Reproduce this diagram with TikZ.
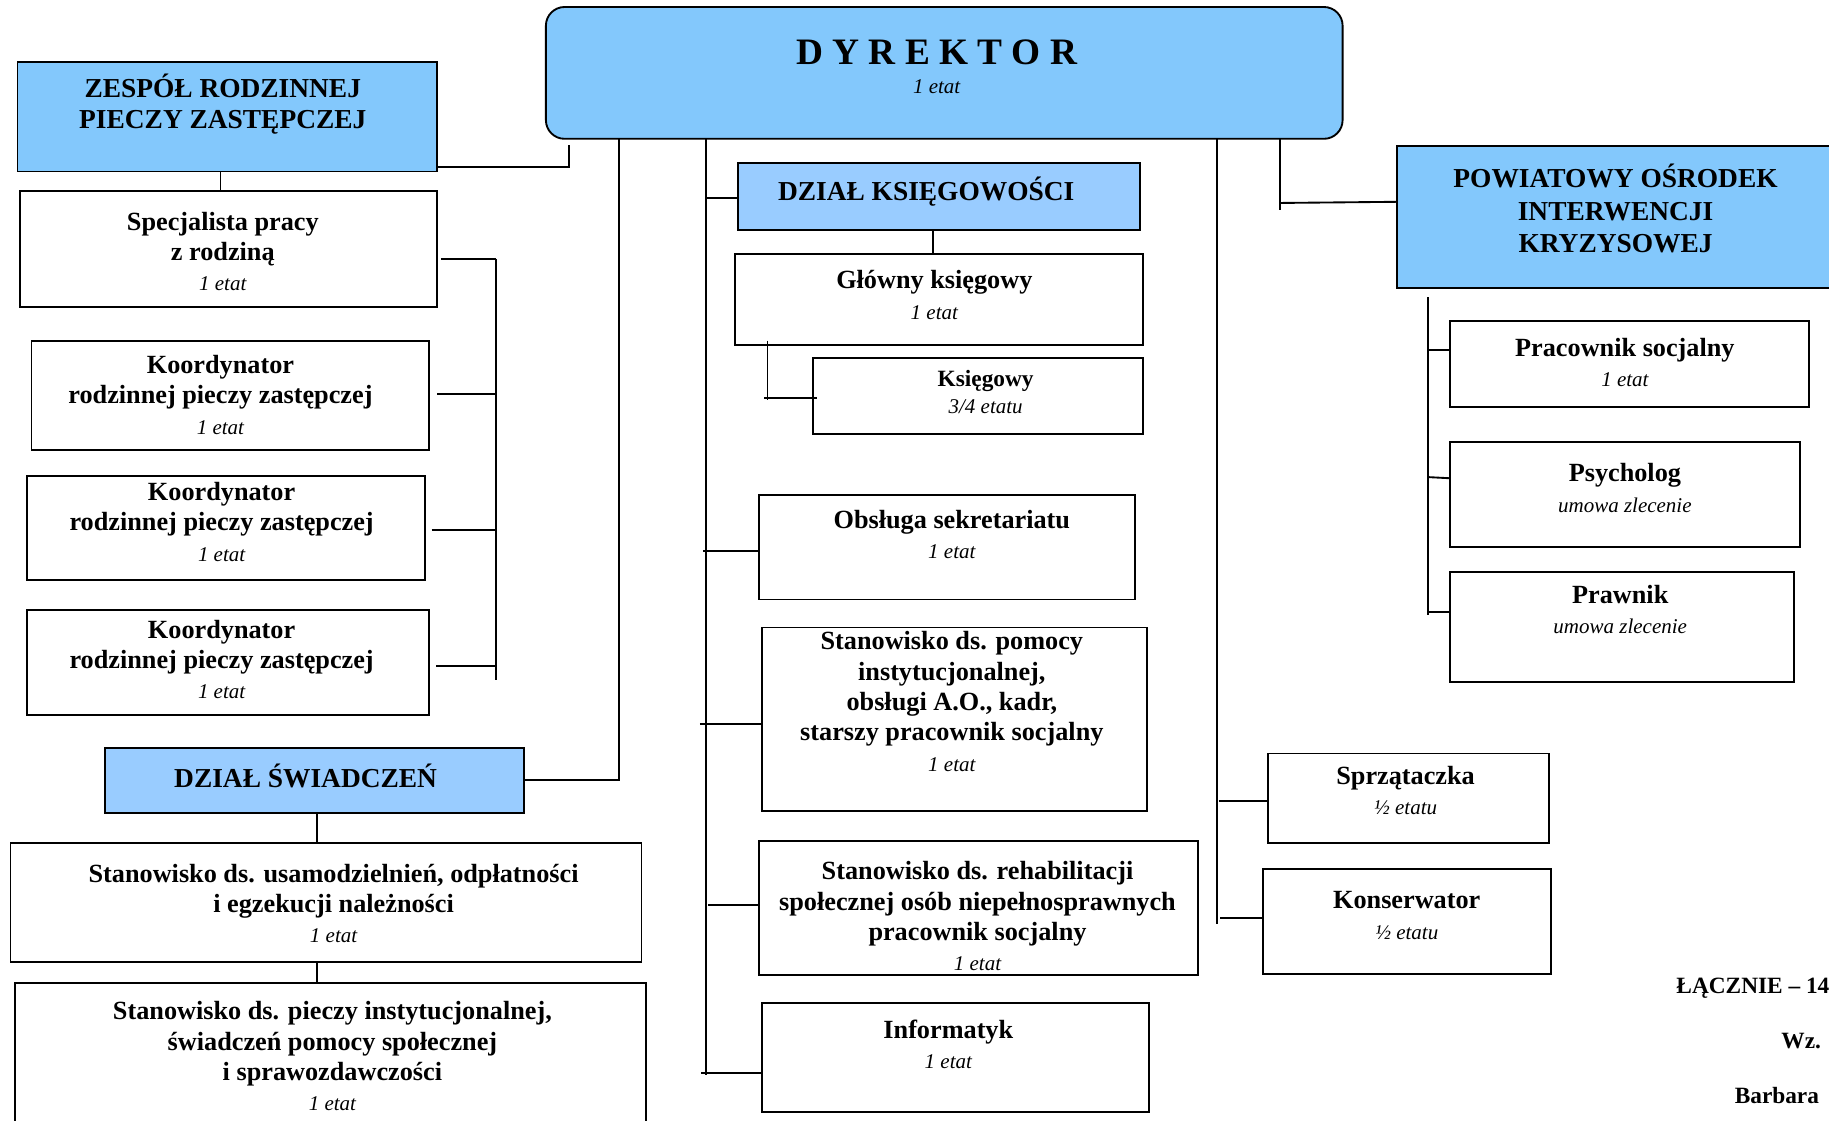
\documentclass[tikz,border=0pt]{standalone}
\usepackage{fontspec}
\setmainfont{Liberation Serif}
\definecolor{headblue}{HTML}{83C8FC}
\definecolor{deptblue}{HTML}{99CCFF}
\newcommand\mkbox[6]{%
  \pgfmathsetmacro\mbW{#5-#3}\pgfmathsetmacro\mbH{#6-#4}%
  \pgfmathsetmacro\mbX{(#3+#5)/2}\pgfmathsetmacro\mbY{(#4+#6)/2}%
  \node[#1, minimum width=\mbW pt, minimum height=\mbH pt] (#2) at (\mbX,\mbY) {};}
\newcommand\et[1]{{\fontsize{18}{26}\selectfont\mdseries\itshape #1}}
\tikzset{
  wbox/.style={draw, line width=1.6pt, fill=white, inner sep=0pt, outer sep=0pt},
  hbox/.style={wbox, fill=headblue},
  dbox/.style={wbox, fill=deptblue},
  txt/.style={anchor=north, yshift=18.2pt, align=center, inner sep=0pt,
    font=\fontsize{22.5}{26}\selectfont\bfseries},
  htxt/.style={txt, font=\fontsize{23.5}{27}\selectfont\bfseries},
  conn/.style={line width=1.6pt},
}
\begin{document}
\begin{tikzpicture}[x=1pt,y=-1pt]
\useasboundingbox (0,0) rectangle (1568,961);
\clip (0,0) rectangle (1568,961);
\fill[white] (0,0) rectangle (1568,961);

% ---------- boxes ----------
\node[hbox, rounded corners=16pt, minimum width=683pt, minimum height=113pt] (dyr) at (809.5,62.5) {};
\mkbox{hbox}{zesp}{15}{53}{375}{147}
\mkbox{wbox}{spec}{17}{164}{375}{263}
\mkbox{wbox}{koA}{27}{292}{368}{386}
\mkbox{wbox}{koB}{23}{408}{364}{497}
\mkbox{wbox}{koC}{23}{523}{368}{613}
\mkbox{dbox}{swiad}{90}{641}{449}{697}
\mkbox{wbox}{usam}{9}{723}{550}{825}
\mkbox{wbox}{piecz}{13}{843}{554}{990}
\mkbox{dbox}{ksieg}{633}{140}{977}{197}
\mkbox{wbox}{glow}{630}{218}{980}{296}
\mkbox{wbox}{ksiegowy}{697}{307}{980}{372}
\mkbox{wbox}{obsl}{651}{424}{973}{514}
\mkbox{wbox}{pomoc}{653}{538}{983}{695}
\mkbox{wbox}{rehab}{651}{721}{1027}{836}
\mkbox{wbox}{inf}{653}{860}{985}{953}
\mkbox{wbox}{sprz}{1087}{646}{1328}{723}
\mkbox{wbox}{kons}{1083}{745}{1330}{835}
\mkbox{hbox}{pow}{1198}{125}{1578}{247}
\mkbox{wbox}{prac}{1243}{275}{1551}{349}
\mkbox{wbox}{psych}{1243}{379}{1543}{469}
\mkbox{wbox}{praw}{1243}{490}{1538}{585}

% ---------- texts ----------
\node[anchor=base, inner sep=0pt, font=\fontsize{32}{36}\selectfont\bfseries] (dyr-t) at (803,55) {D Y R E K T O R};
\node[anchor=base, inner sep=0pt] (dyr-e) at (803,80) {\et{1 etat}};
\node[htxt] (zesp-t) at (191,81) {\strut ZESPÓŁ RODZINNEJ\\PIECZY ZASTĘPCZEJ};
\node[txt] (spec-t) at (191,197) {\strut Specjalista pracy\\z rodziną\\\et{1 etat}};
\node[txt] (koA-t) at (189,320) {\strut Koordynator\\rodzinnej pieczy zastępczej\\\et{1 etat}};
\node[txt] (koB-t) at (190,429) {\strut Koordynator\\rodzinnej pieczy zastępczej\\\et{1 etat}};
\node[txt] (koC-t) at (190,547) {\strut Koordynator\\rodzinnej pieczy zastępczej\\\et{1 etat}};
\node[htxt] (swiad-t) at (262,673) {\strut DZIAŁ ŚWIADCZEŃ};
\node[txt] (usam-t) at (286,756) {\strut Stanowisko ds. usamodzielnień, odpłatności\\i egzekucji należności\\\et{1 etat}};
\node[txt] (piecz-t) at (285,874) {\strut Stanowisko ds. pieczy instytucjonalnej,\\świadczeń pomocy społecznej\\i sprawozdawczości\\\et{1 etat}};
\node[htxt] (ksieg-t) at (794,170) {\strut DZIAŁ KSIĘGOWOŚCI};
\node[txt, font=\fontsize{22.5}{27}\selectfont\bfseries] (glow-t) at (801,246) {\strut Główny księgowy\\\et{1 etat}};
\node[txt, yshift=-2pt, font=\fontsize{20}{23}\selectfont\bfseries] (ksiegowy-t) at (845,331) {\strut Księgowy\\{\fontsize{18}{23}\selectfont\mdseries\itshape 3/4 etatu}};
\node[txt] (obsl-t) at (816,453) {\strut Obsługa sekretariatu\\\et{1 etat}};
\node[txt] (pomoc-t) at (816,557) {\strut Stanowisko ds. pomocy\\instytucjonalnej,\\obsługi A.O., kadr,\\starszy pracownik socjalny\\\et{1 etat}};
\node[txt] (rehab-t) at (838,754) {\strut Stanowisko ds. rehabilitacji\\społecznej osób niepełnosprawnych\\pracownik socjalny\\\et{1 etat}};
\node[txt] (inf-t) at (813,890) {\strut Informatyk\\\et{1 etat}};
\node[txt] (sprz-t) at (1205,672) {\strut Sprzątaczka\\\et{½ etatu}};
\node[txt] (kons-t) at (1206,779) {\strut Konserwator\\\et{½ etatu}};
\node[txt, font=\fontsize{23.5}{27.5}\selectfont\bfseries, yshift=1.05pt] (pow-t) at (1385,160) {\strut POWIATOWY OŚRODEK\\INTERWENCJI\\KRYZYSOWEJ};
\node[txt] (prac-t) at (1393,305) {\strut Pracownik socjalny\\\et{1 etat}};
\node[txt] (psych-t) at (1393,413) {\strut Psycholog\\\et{umowa zlecenie}};
\node[txt] (praw-t) at (1389,517) {\strut Prawnik\\\et{umowa zlecenie}};

\node[anchor=base west, inner sep=0pt, font=\fontsize{20}{23}\selectfont\bfseries] (lacz) at (1437,852) {ŁĄCZNIE – 14};
\node[anchor=base west, inner sep=0pt, font=\fontsize{20}{23}\selectfont\bfseries] (wz) at (1527,899) {Wz.};
\node[anchor=base west, inner sep=0pt, font=\fontsize{20}{23}\selectfont\bfseries] (barb) at (1487,946) {Barbara};

% ---------- connector coordinates ----------
\coordinate (zj) at (488,143);
\coordinate (zt) at (488,124);
\coordinate (xz) at (189,0);
\coordinate (kb) at (425,0);
\coordinate (lb) at (531,0);
\coordinate (xs) at (272,0);
\coordinate (cb) at (605,0);
\coordinate (xk) at (800,0);
\coordinate (kv) at (658,0);
\coordinate (rb) at (1043,0);
\coordinate (pb) at (1097,0);
\coordinate (pj) at (1097,174);
\coordinate (vb) at (1224,0);

% ZESPÓŁ
\draw[conn] (zesp.east |- zj) -- (zj) -- (zt);
\draw[conn] (zesp.south -| xz) -- (spec.north -| xz);
% koordynator bus
\draw[conn] (kb |- 0,222) -- (kb |- 0,583);
\draw[conn, shorten <=3pt] (spec.east |- 0,222) -- (kb |- 0,222);
\draw[conn, shorten <=7pt] (koA.east |- 0,338) -- (kb |- 0,338);
\draw[conn, shorten <=6pt] (koB.east |- 0,454) -- (kb |- 0,454);
\draw[conn, shorten <=6pt] (koC.east |- 0,571) -- (kb |- 0,571);
% świadczeń
\draw[conn] (dyr.south -| lb) -- (lb |- swiad.east) -- (swiad.east);
\draw[conn] (swiad.south -| xs) -- (usam.north -| xs);
\draw[conn] (usam.south -| xs) -- (piecz.north -| xs);
% centre bus
\draw[conn] (dyr.south -| cb) -- (cb |- 0,922);
\draw[conn] (cb |- 0,170) -- (ksieg.west |- 0,170);
\draw[conn] ([xshift=-2pt]cb |- 0,472) -- (obsl.west |- 0,472);
\draw[conn] ([xshift=-5pt]cb |- 0,621) -- (pomoc.west |- 0,621);
\draw[conn] ([xshift=2pt]cb |- 0,776) -- (rehab.west |- 0,776);
\draw[conn] ([xshift=-4pt]cb |- 0,920) -- (inf.west |- 0,920);
\draw[conn] (ksieg.south -| xk) -- (glow.north -| xk);
\draw[conn] (kv |- 0,292) -- (kv |- 0,343);
\draw[conn] ([xshift=-3pt]kv |- 0,341) -- ([xshift=3pt]ksiegowy.west |- 0,341);
% right bus
\draw[conn] (dyr.south -| rb) -- (rb |- 0,792);
\draw[conn] ([xshift=2pt]rb |- 0,687) -- (sprz.west |- 0,687);
\draw[conn] ([xshift=3pt]rb |- 0,787) -- (kons.west |- 0,787);
% POWIATOWY
\draw[conn] (dyr.south -| pb) -- (pb |- 0,180);
\draw[conn] (pj) -- (pow.west |- 0,173);
\draw[conn] (vb |- 0,255) -- (vb |- 0,527);
\draw[conn] (vb |- 0,300) -- (prac.west |- 0,300);
\draw[conn] (vb |- 0,409) -- (psych.west |- 0,410);
\draw[conn] (vb |- 0,525) -- (praw.west |- 0,525);
\end{tikzpicture}
\end{document}
